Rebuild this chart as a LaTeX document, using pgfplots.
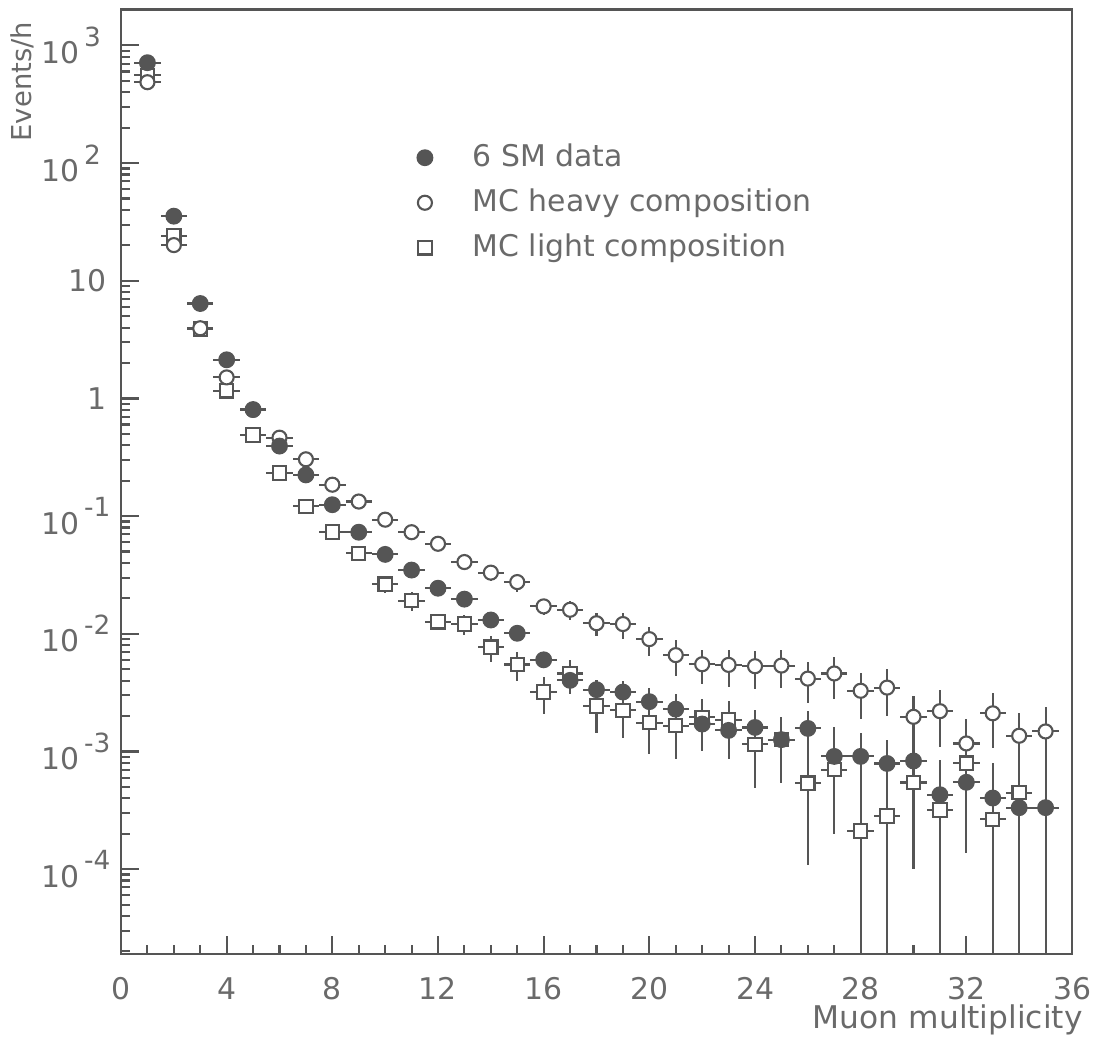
\documentclass[border=0pt]{standalone}
\usepackage{fontspec}
\setmainfont{DejaVu Sans}
\usepackage{pgfplots}
\pgfplotsset{compat=1.18}
\usepackage{pgfplotstable}

\definecolor{ink}{HTML}{555555}
\definecolor{txt}{HTML}{6A6A6A}
\newcommand{\tp}[1]{\hbox{10\kern0.15em\rlap{\raisebox{1.05ex}{\fontsize{7.5}{8}\selectfont #1}}\kern0.75em}}
\pgfplotsset{markleg/.style={legend image code/.code={%
    \draw[##1] plot coordinates {(0.1cm,0cm)};
    \path (0cm,0cm) (0.5cm,0cm);}}}

% 6 SM data
\pgfplotstableread{
x y ey
1 713 7
2 35.4 1.0
3 6.41 0.25
4 2.13 0.1
5 0.805 0.04
6 0.394 0.024
7 0.224 0.016
8 0.125 0.009
9 0.073 0.006
10 0.0473 0.0043
11 0.0348 0.0035
12 0.0244 0.0024
13 0.0197 0.0022
14 0.0131 0.0016
15 0.0101 0.0013
16 0.00601 0.0009
17 0.00402 0.00092
18 0.00335 0.00067
19 0.0032 0.00074
20 0.00265 0.00082
21 0.00229 0.0008
22 0.00171 0.0007
23 0.00151 0.00065
24 0.00160 0.00067
25 0.00126 0.00072
26 0.00157 0.00064
27 0.000908 0.00071
28 0.000908 0.00054
29 0.000791 0.00047
30 0.00083 0.00073
31 0.000429 0.000425
32 0.000547 0.00041
33 0.000402 0.000398
34 0.000333 0.00033
35 0.000333 0.00033
}\smdata

% MC heavy composition
\pgfplotstableread{
x y ey
1 487 5
2 20.1 0.6
3 3.95 0.2
4 1.51 0.08
5 0.80 0.04
6 0.464 0.023
7 0.304 0.018
8 0.185 0.011
9 0.133 0.0093
10 0.0933 0.0065
11 0.073 0.0058
12 0.0582 0.0058
13 0.0407 0.0053
14 0.0331 0.005
15 0.0275 0.005
16 0.0171 0.0026
17 0.0160 0.003
18 0.0123 0.0028
19 0.0121 0.003
20 0.00901 0.0025
21 0.00659 0.0022
22 0.00551 0.0018
23 0.00544 0.0019
24 0.00530 0.0019
25 0.00537 0.0019
26 0.00416 0.0016
27 0.00460 0.0018
28 0.00328 0.0014
29 0.00349 0.0015
30 0.00197 0.001
31 0.00220 0.0011
32 0.00117 0.0007
33 0.00211 0.00105
34 0.00136 0.00078
35 0.00148 0.00089
}\heavy

% MC light composition
\pgfplotstableread{
x y ey
1 557 6
2 24 0.7
3 3.9 0.2
4 1.16 0.06
5 0.489 0.03
6 0.232 0.016
7 0.121 0.01
8 0.0734 0.007
9 0.0482 0.0048
10 0.0264 0.004
11 0.0191 0.0036
12 0.01265 0.0015
13 0.0121 0.0024
14 0.00769 0.0019
15 0.00548 0.0015
16 0.0032 0.0011
17 0.0046 0.0014
18 0.00244 0.001
19 0.00224 0.00094
20 0.00176 0.00081
21 0.00166 0.0008
22 0.00195 0.00084
23 0.00186 0.00082
24 0.00115 0.00066
25 0.00126 0.00072
26 0.000538 0.00043
27 0.000700 0.00049
28 0.000211 0.000209
29 0.000283 0.00028
30 0.000545 0.00044
31 0.000318 0.000315
32 0.000796 0.00064
33 0.000265 0.000262
34 0.000447 0.000443
}\light

\begin{document}
\begin{tikzpicture}
\useasboundingbox (-12.1mm,-8.2mm) rectangle (97.4mm,95.4mm);
\begin{axis}[
    name=ax,
    at={(0,0)}, anchor=south west,
    scale only axis,
    width=95.1mm, height=94.45mm,
    ymode=log,
    xmin=0, xmax=36,
    ymin=1.9e-5, ymax=2020,
    xtick={0,4,...,36},
    minor xtick={1,...,35},
    ytick={1e-4,1e-3,1e-2,1e-1,1,10,100,1000},
    yticklabels={\tp{-4},\tp{-3},\tp{-2},\tp{-1},1,10,\tp{2},\tp{3}},
    minor ytick={2e-5,3e-5,4e-5,5e-5,6e-5,7e-5,8e-5,9e-5,
                 2e-4,3e-4,4e-4,5e-4,6e-4,7e-4,8e-4,9e-4,
                 2e-3,3e-3,4e-3,5e-3,6e-3,7e-3,8e-3,9e-3,
                 0.02,0.03,0.04,0.05,0.06,0.07,0.08,0.09,
                 0.2,0.3,0.4,0.5,0.6,0.7,0.8,0.9,
                 2,3,4,5,6,7,8,9,
                 20,30,40,50,60,70,80,90,
                 200,300,400,500,600,700,800,900},
    tick pos=left,
    tick align=inside,
    major tick length=1.8mm,
    minor tick length=0.9mm,
    axis line style={ink, line width=0.75pt},
    every tick/.style={ink, line width=0.6pt},
    /pgf/number format/assume math mode=true,
    tick label style={font=\fontsize{8.5}{10}\selectfont, text=txt},
    xticklabel style={inner sep=0.5pt, yshift=-2.1mm},
    yticklabel style={xshift=-0.2mm},
    legend style={draw=none, fill=none, at={(rel axis cs:0.2965,0.8735)},
        anchor=north west, font=\fontsize{8.5}{10}\selectfont,
        text=txt, row sep=0.3mm},
    legend cell align=left,
    reverse legend,
    error bars/error mark=none,
    error bars/error bar style={ink, line width=0.6pt},
]

\addplot[only marks, mark=square*, mark size=1.9pt,
    mark options={draw=ink, fill=white, line width=0.6pt}, markleg,
    error bars/.cd, x dir=both, x fixed=0.5, y dir=both, y explicit]
    table[x=x, y=y, y error=ey] {\light};
\addlegendentry{MC light composition}

\addplot[only marks, mark=*, mark size=2pt,
    mark options={draw=ink, fill=white, line width=0.6pt}, markleg,
    error bars/.cd, x dir=both, x fixed=0.5, y dir=both, y explicit]
    table[x=x, y=y, y error=ey] {\heavy};
\addlegendentry{MC heavy composition}

\addplot[only marks, mark=*, mark size=2.2pt,
    mark options={draw=ink, fill=ink, line width=0.4pt}, markleg,
    error bars/.cd, x dir=both, x fixed=0.5, y dir=both, y explicit]
    table[x=x, y=y, y error=ey] {\smdata};
\addlegendentry{6 SM data}

\end{axis}
\node[rotate=90, anchor=east, font=\fontsize{7.8}{9}\selectfont, text=txt]
    at ([xshift=-9.9mm]ax.north west) {Events/h};
\node[anchor=base east, inner sep=0.5pt, font=\fontsize{8.9}{10}\selectfont, text=txt]
    at ([xshift=1.3mm, yshift=-7.4mm]ax.south east) {Muon multiplicity};
\end{tikzpicture}
\end{document}
